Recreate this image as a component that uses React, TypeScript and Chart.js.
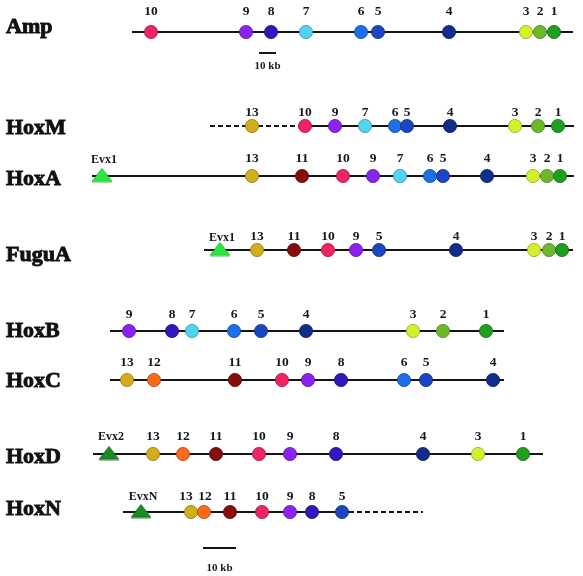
import React, { useEffect, useRef } from "react";
import { Chart, registerables } from "chart.js";

Chart.register(...registerables);

// ---- data ----
const rows = ["Amp", "HoxM", "HoxA", "FuguA", "HoxB", "HoxC", "HoxD", "HoxN"];
const rowY = [32, 126, 176, 250, 331, 380, 454, 512];
const lineStart = [132, 300, 92, 204, 110, 110, 93, 123];
const lineEnd = [573, 574, 574, 573, 504, 504, 543, 349];
const dashedRows = ["HoxM", "HoxN"];
const dashedStart = [210, 349];
const dashedEnd = [300, 423];

const geneNumbers: number[][] = [
  [10, 9, 8, 7, 6, 5, 4, 3, 2, 1],
  [13, 10, 9, 7, 6, 5, 4, 3, 2, 1],
  [13, 11, 10, 9, 7, 6, 5, 4, 3, 2, 1],
  [13, 11, 10, 9, 5, 4, 3, 2, 1],
  [9, 8, 7, 6, 5, 4, 3, 2, 1],
  [13, 12, 11, 10, 9, 8, 6, 5, 4],
  [13, 12, 11, 10, 9, 8, 4, 3, 1],
  [13, 12, 11, 10, 9, 8, 5],
];
const genePositions: number[][] = [
  [151, 246, 271, 306, 361, 378, 449, 526, 540, 554],
  [252, 305, 335, 365, 395, 407, 450, 515, 538, 558],
  [252, 302, 343, 373, 400, 430, 443, 487, 533, 547, 560],
  [257, 294, 328, 356, 379, 456, 534, 549, 562],
  [129, 172, 192, 234, 261, 306, 413, 443, 486],
  [127, 154, 235, 282, 308, 341, 404, 426, 493],
  [153, 183, 216, 259, 290, 336, 423, 478, 523],
  [191, 204, 230, 262, 290, 312, 342],
];

const evxRows = ["HoxA", "FuguA", "HoxD", "HoxN"];
const evxNames = ["Evx1", "Evx1", "Evx2", "EvxN"];
const evxPositions = [102, 220, 109, 141];

const scaleBarRows = [53, 548];
const scaleBarStart = [259, 203];
const scaleBarEnd = [276, 236];
const scaleBarLabel = "10 kb";

// ---- styles ----
const GENE_COLORS: Record<number, string> = {
  1: "#1f9e1f",
  2: "#6cb82c",
  3: "#d4f02a",
  4: "#122d8c",
  5: "#1b46bf",
  6: "#1c6fe6",
  7: "#50d4f2",
  8: "#3516be",
  9: "#8a22f0",
  10: "#ee2463",
  11: "#870d0d",
  12: "#fb6a1c",
  13: "#d2ae1a",
};
const EVX_COLORS: Record<string, string> = {
  Evx1: "#28ea3c",
  Evx2: "#1c8a26",
  EvxN: "#1c8a26",
};
const labelGap = [20, 13, 17, 13, 16, 17, 17, 15];
const nameDy = [-5, 2, 3, 5, 0, 1, 3, -3];
const evxLabelGap = [16, 12, 17, 15];
// small horizontal nudges for crowded number labels: [row, gene index, dx]
const labelNudges: [number, number, number][] = [
  [7, 0, -5],
  [7, 1, 1],
];

function darker(hex: string): string {
  const n = parseInt(hex.slice(1), 16);
  const r = Math.round(((n >> 16) & 255) * 0.7);
  const g = Math.round(((n >> 8) & 255) * 0.7);
  const b = Math.round((n & 255) * 0.7);
  return `rgb(${r},${g},${b})`;
}

function triangleImage(color: string): HTMLCanvasElement {
  const c = document.createElement("canvas");
  c.width = 22;
  c.height = 15;
  const ctx = c.getContext("2d")!;
  ctx.fillStyle = color;
  ctx.strokeStyle = darker(color);
  ctx.lineWidth = 0.8;
  ctx.beginPath();
  ctx.moveTo(11, 1);
  ctx.lineTo(21, 14);
  ctx.lineTo(1, 14);
  ctx.closePath();
  ctx.fill();
  ctx.stroke();
  return c;
}

export default function App() {
  const ref = useRef<HTMLCanvasElement>(null);

  useEffect(() => {
    if (!ref.current) return;
    const datasets: any[] = [];

    // gene circles (drawn on top)
    rows.forEach((r, i) => {
      datasets.push({
        type: "scatter",
        label: r + " genes",
        data: genePositions[i].map((x) => ({ x, y: rowY[i] })),
        pointRadius: 6.6,
        pointBackgroundColor: geneNumbers[i].map((n) => GENE_COLORS[n]),
        pointBorderColor: geneNumbers[i].map((n) => darker(GENE_COLORS[n])),
        pointBorderWidth: 0.8,
        showLine: false,
        order: 0,
        clip: false,
      });
    });

    // Evx triangles
    evxRows.forEach((r, i) => {
      const yi = rows.indexOf(r);
      datasets.push({
        type: "scatter",
        label: evxNames[i],
        data: [{ x: evxPositions[i], y: rowY[yi] - 1 }],
        pointStyle: triangleImage(EVX_COLORS[evxNames[i]]),
        pointRadius: 8,
        showLine: false,
        order: 0,
        clip: false,
      });
    });

    // cluster lines
    rows.forEach((r, i) => {
      datasets.push({
        type: "line",
        label: r,
        data: [
          { x: lineStart[i], y: rowY[i] },
          { x: lineEnd[i], y: rowY[i] },
        ],
        borderColor: "#151515",
        borderWidth: 2,
        pointRadius: 0,
        order: 1,
        clip: false,
      });
    });
    dashedRows.forEach((r, i) => {
      const yi = rows.indexOf(r);
      datasets.push({
        type: "line",
        label: r + " dashed",
        data: [
          { x: dashedStart[i], y: rowY[yi] },
          { x: dashedEnd[i], y: rowY[yi] },
        ],
        borderColor: "#151515",
        borderWidth: 2,
        borderDash: [5, 3],
        pointRadius: 0,
        order: 1,
        clip: false,
      });
    });

    // scale bars
    scaleBarRows.forEach((y, i) => {
      datasets.push({
        type: "line",
        label: "scale " + i,
        data: [
          { x: scaleBarStart[i], y },
          { x: scaleBarEnd[i], y },
        ],
        borderColor: "#151515",
        borderWidth: 2,
        pointRadius: 0,
        order: 1,
        clip: false,
      });
    });

    const textPlugin = {
      id: "textLabels",
      afterDatasetsDraw(chart: any) {
        const ctx = chart.ctx as CanvasRenderingContext2D;
        const xs = chart.scales.x;
        const ys = chart.scales.y;
        ctx.save();
        ctx.textBaseline = "middle";
        ctx.textAlign = "center";
        ctx.fillStyle = "#161620";
        // gene numbers
        ctx.font = 'bold 13.5px "Liberation Serif"';
        rows.forEach((_, i) => {
          geneNumbers[i].forEach((n, j) => {
            const nudge = labelNudges.find((d) => d[0] === i && d[1] === j);
            ctx.fillText(
              String(n),
              xs.getPixelForValue(genePositions[i][j]) + (nudge ? nudge[2] : 0),
              ys.getPixelForValue(rowY[i]) - labelGap[i]
            );
          });
        });
        // evx names
        ctx.font = 'bold 12px "Liberation Serif"';
        evxRows.forEach((r, i) => {
          const yi = rows.indexOf(r);
          ctx.fillText(
            evxNames[i],
            xs.getPixelForValue(evxPositions[i]) + 2,
            ys.getPixelForValue(rowY[yi]) - evxLabelGap[i]
          );
        });
        // scale bar labels
        ctx.font = 'bold 11px "Liberation Serif"';
        scaleBarRows.forEach((y, i) => {
          ctx.fillText(
            scaleBarLabel,
            xs.getPixelForValue((scaleBarStart[i] + scaleBarEnd[i]) / 2),
            ys.getPixelForValue(y) + 13 + (i === 1 ? 7 : 0)
          );
        });
        // row names
        ctx.textAlign = "left";
        ctx.font = 'bold 22px "Liberation Serif"';
        ctx.fillStyle = "#111";
        ctx.strokeStyle = "#111";
        ctx.lineWidth = 0.9;
        rows.forEach((r, i) => {
          const y = ys.getPixelForValue(rowY[i]) + nameDy[i];
          ctx.fillText(r, 6, y);
          ctx.strokeText(r, 6, y);
        });
        ctx.restore();
      },
    };

    const chart = new Chart(ref.current, {
      type: "scatter",
      data: { datasets },
      options: {
        animation: false,
        responsive: false,
        events: [],
        layout: { padding: 0, autoPadding: false },
        plugins: {
          legend: { display: false },
          tooltip: { enabled: false },
        },
        scales: {
          x: { type: "linear", min: 0, max: 583, display: false },
          y: { type: "linear", min: 0, max: 576, reverse: true, display: false },
        },
      },
      plugins: [textPlugin],
    } as any);
    return () => chart.destroy();
  }, []);

  return (
    <div style={{ position: "absolute", left: 0, top: 0, width: 583, height: 576, background: "#fff" }}>
      <canvas ref={ref} width={583} height={576} />
    </div>
  );
}
